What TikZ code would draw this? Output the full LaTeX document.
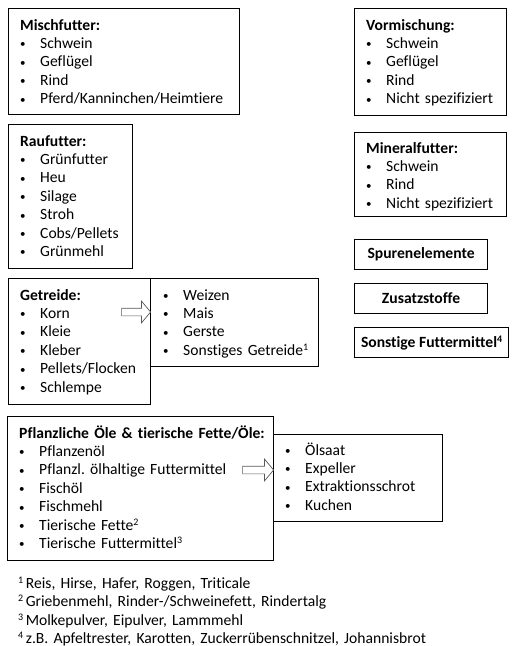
\documentclass[tikz,border=0pt]{standalone}
\usepackage{fontspec}
\setmainfont{Carlito}[Ligatures={NoCommon}]
\usetikzlibrary{positioning, shapes.arrows}

\newcommand{\itm}{\makebox[20pt][l]{\raisebox{0.5pt}{\fontsize{11}{11}\selectfont\textbullet}}}
\newcommand{\hd}[1]{\textbf{#1}}
\newcommand{\fn}[1]{\raisebox{5pt}{\fontsize{10}{10}\selectfont #1}}

\begin{document}
\frenchspacing
\begin{tikzpicture}[
        x=1pt, y=-1pt,
        frame/.style={draw=black, line width=1.2pt, inner sep=0pt, anchor=north west},
        entries/.style={align=left, text width=480pt, inner sep=0pt,
            font=\fontsize{15.6}{18.4}\selectfont},
        tag/.style={frame, font=\fontsize{15.6}{18.4}\selectfont\bfseries, minimum height=30pt},
        pointer/.style={single arrow, draw=black!65, line width=0.7pt, fill=white,
            inner sep=3.5pt, single arrow head extend=7pt, single arrow tip angle=100}
    ]
    \useasboundingbox (0,0) rectangle (518,646);

    % left column
    \node[frame, minimum width=231pt, minimum height=106pt] (mischBox) at (8,8) {};
    \node[entries, below right=22pt and 12pt of mischBox.north west, anchor=base west] (mischList)
        {\hd{Mischfutter:}\\ \itm Schwein\\ \itm Geflügel\\ \itm Rind\\ \itm Pferd/Kanninchen/Heimtiere};

    \node[frame, minimum width=124pt, minimum height=144pt] (raufBox) at (8,124) {};
    \node[entries, below right=22pt and 12pt of raufBox.north west, anchor=base west] (raufList)
        {\hd{Raufutter:}\\ \itm Grünfutter\\ \itm Heu\\ \itm Silage\\ \itm Stroh\\ \itm Cobs/Pellets\\ \itm Grünmehl};

    \node[frame, minimum width=142pt, minimum height=126pt] (getrBox) at (8,278) {};
    \node[entries, below right=22pt and 12pt of getrBox.north west, anchor=base west] (getrList)
        {\hd{Getreide:}\\ \itm Korn\\ \itm Kleie\\ \itm Kleber\\ \itm Pellets/Flocken\\ \itm Schlempe};
    \node[frame, minimum width=168pt, minimum height=88pt] (kornBox) at (150,278) {};
    \node[entries, below right=22pt and 13pt of kornBox.north west, anchor=base west] (kornList)
        {\itm Weizen\\ \itm Mais\\ \itm Gerste\\ \itm Sonstiges Getreide\fn{1}};
    \node[pointer, minimum height=29pt, minimum width=21pt] (kornArrow) at (134.5,312) {};

    \node[frame, minimum width=266pt, minimum height=144pt] (oelBox) at (7,416) {};
    \node[entries, below right=22pt and 12pt of oelBox.north west, anchor=base west] (oelList)
        {\hd{Pflanzliche Öle \& tierische Fette/Öle:}\\ \itm Pflanzenöl\\ \itm Pflanzl. ölhaltige Futtermittel\\
         \itm Fischöl\\ \itm Fischmehl\\ \itm Tierische Fette\fn{2}\\ \itm Tierische Futtermittel\fn{3}};
    \node[frame, minimum width=169pt, minimum height=87pt] (saatBox) at (273,434) {};
    \node[entries, below right=21pt and 12pt of saatBox.north west, anchor=base west] (saatList)
        {\itm Ölsaat\\ \itm Expeller\\ \itm Extraktionsschrot\\ \itm Kuchen};
    \node[pointer, minimum height=31pt, minimum width=21pt] (saatArrow) at (256.5,470) {};

    % right column
    \node[frame, minimum width=152pt, minimum height=107pt] (vormBox) at (354,8) {};
    \node[entries, below right=22pt and 12pt of vormBox.north west, anchor=base west] (vormList)
        {\hd{Vormischung:}\\ \itm Schwein\\ \itm Geflügel\\ \itm Rind\\ \itm Nicht spezifiziert};

    \node[frame, minimum width=152pt, minimum height=84pt] (minBox) at (354,132) {};
    \node[entries, below right=21pt and 12pt of minBox.north west, anchor=base west] (minList)
        {\hd{Mineralfutter:}\\ \itm Schwein\\ \itm Rind\\ \itm Nicht spezifiziert};

    \node[tag, minimum width=133pt] (spurBox) at (354,239) {Spurenelemente};
    \node[tag, minimum width=133pt] (zusBox) at (354,283) {Zusatzstoffe};
    \node[tag, minimum width=154pt] (sonstBox) at (354,327) {Sonstige Futtermittel\fn{4}};

    % footnotes
    \node[entries, below right=27pt and 11pt of oelBox.south west, anchor=base west] (notes)
        {\fn{1}\,Reis, Hirse, Hafer, Roggen, Triticale\\
         \fn{2}\,Griebenmehl, Rinder-/Schweinefett, Rindertalg\\
         \fn{3}\,Molkepulver, Eipulver, Lammmehl\\
         \fn{4}\,z.B. Apfeltrester, Karotten, Zuckerrübenschnitzel, Johannisbrot};
\end{tikzpicture}
\end{document}
